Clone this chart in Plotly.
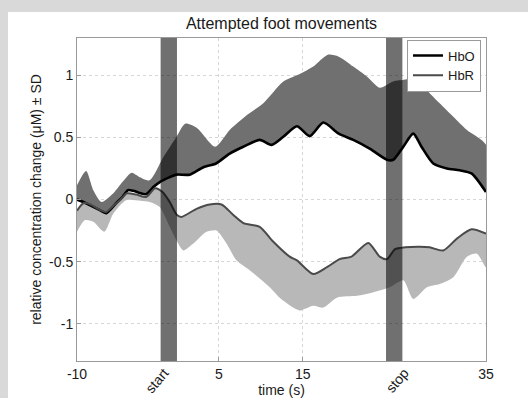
import plotly.graph_objects as go

# ---------------- data ----------------
hbo_t = [-10, -9.3, -8.6, -7.5, -6.8, -5.7, -5.0, -4.4, -3.8, -3.2, -2.4, -1.6, -0.9, 0.2, 0.95,
         2.4, 3.9, 5.3, 6.8, 8.3, 10.1, 11.4, 12.7, 14.2, 15.6, 17.1, 18.8, 20.4, 22.2, 24.1,
         24.8, 25.9, 27.0, 27.9, 29.2, 30.7, 32.1, 33.4, 35.0]
hbo_mean = [0.0, -0.02, -0.046, -0.086, -0.11, -0.03, 0.02, 0.075, 0.07, 0.055, 0.043, 0.10, 0.14,
            0.18, 0.20, 0.20, 0.26, 0.29, 0.37, 0.425, 0.48, 0.44, 0.505, 0.59, 0.51, 0.62, 0.53,
            0.48, 0.41, 0.32, 0.32, 0.425, 0.53, 0.425, 0.29, 0.25, 0.235, 0.21, 0.06]

hbo_up_t = [-10, -9.0, -8.2, -7.3, -6.0, -5.0, -4.0, -3.1, -2.0, -0.5, 0.95, 1.9, 3.2, 5.2, 6.8,
            8.7, 10.5, 12.7, 14.5, 16.0, 17.6, 18.8, 20.4, 21.9, 23.3, 24.8, 26.1, 27.2, 28.5,
            29.9, 31.4, 32.9, 35.0]
hbo_upper = [0.115, 0.23, 0.075, -0.02, 0.05, 0.14, 0.215, 0.18, 0.155, 0.34, 0.505, 0.61, 0.575,
             0.425, 0.56, 0.68, 0.775, 0.95, 1.01, 1.07, 1.165, 1.15, 1.07, 0.99, 0.9, 0.95, 0.965,
             0.99, 0.88, 0.775, 0.667, 0.56, 0.44]

hbr_t = [-10, -9.3, -8.5, -7.6, -6.8, -6.0, -5.2, -4.5, -3.5, -2.4, -1.4, -0.6, 0.2, 1.0, 1.5,
         3.15, 4.6, 5.9, 7.2, 8.3, 10.1, 11.6, 13.4, 14.2, 16.0, 17.5, 18.9, 20.2, 22.05, 23.3,
         24.1, 25.0, 26.1, 27.7, 28.8, 30.3, 31.8, 33.4, 35.0]
hbr_mean = [-0.09, -0.03, -0.04, -0.08, -0.10, -0.05, 0.0, 0.05, 0.04, 0.02, 0.09, 0.06, -0.02,
            -0.125, -0.14, -0.075, -0.04, -0.04, -0.125, -0.19, -0.22, -0.34, -0.46, -0.49, -0.60,
            -0.545, -0.48, -0.46, -0.35, -0.46, -0.48, -0.40, -0.385, -0.38, -0.385, -0.41, -0.315,
            -0.24, -0.275]

hbr_lo_t = [-10, -9.15, -8.2, -7.0, -6.0, -4.6, -3.0, -2.0, -0.9, 0.2, 0.95, 1.7, 2.8, 4.25, 5.35,
            6.45, 7.55, 9.0, 11.2, 12.3, 13.8, 14.5, 16.0, 17.1, 18.6, 20.8, 22.6, 24.4, 25.9, 27.0,
            28.5, 29.9, 31.4, 32.9, 34.0, 35.0]
hbr_lower = [-0.26, -0.167, -0.18, -0.26, -0.113, -0.006, -0.01, -0.02, -0.06, -0.22, -0.33, -0.41,
             -0.355, -0.26, -0.25, -0.355, -0.49, -0.57, -0.706, -0.79, -0.87, -0.894, -0.855, -0.87,
             -0.79, -0.775, -0.746, -0.706, -0.65, -0.80, -0.706, -0.68, -0.625, -0.46, -0.436, -0.545]

stim_bars = [(-0.8, 1.0), (24.0, 25.8)]

x_tickvals = [-10, 5.6, 14.85, 35]
x_ticktext = ["-10", "5", "15", "35"]
event_tickvals = [-0.4, 26.0]
event_ticktext = ["start", "stop"]
y_tickvals = [-1, -0.5, 0, 0.5, 1]
y_ticktext = ["-1", "-0.5", "0", "0.5", "1"]

# ---------------- figure ----------------
FONT = "Liberation Sans, Arial, sans-serif"
fig = go.Figure()

SM = 0.7
# HbR band (mean - SD .. mean)
fig.add_trace(go.Scatter(
    x=hbr_t + hbr_lo_t[::-1], y=hbr_mean + hbr_lower[::-1],
    fill="toself", fillcolor="#b8b8b8", line=dict(width=0, shape="spline", smoothing=SM),
    mode="lines", showlegend=False, hoverinfo="skip"))
# HbO band (mean .. mean + SD)
fig.add_trace(go.Scatter(
    x=hbo_up_t + hbo_t[::-1], y=hbo_upper + hbo_mean[::-1],
    fill="toself", fillcolor="#707070", line=dict(width=0, shape="spline", smoothing=SM),
    mode="lines", showlegend=False, hoverinfo="skip"))
# mean lines
fig.add_trace(go.Scatter(x=hbo_t, y=hbo_mean, mode="lines", name="HbO",
                         line=dict(color="#000000", width=2.6, shape="spline", smoothing=SM)))
fig.add_trace(go.Scatter(x=hbr_t, y=hbr_mean, mode="lines", name="HbR",
                         line=dict(color="#4a4a4a", width=2, shape="spline", smoothing=SM)))
# dummy trace for the event tick axis
fig.add_trace(go.Scatter(x=[None], y=[None], xaxis="x2", showlegend=False, hoverinfo="skip"))

for (a, b) in stim_bars:
    fig.add_shape(type="rect", xref="x", yref="paper", x0=a, x1=b, y0=0, y1=1,
                  fillcolor="rgba(0,0,0,0.56)", line=dict(width=0), layer="above")

# grey page frame (left and top strips)
W, H = 528, 398
L, R, T, B = 77, 42, 38, 37
pw, ph = W - L - R, H - T - B
def px2x(p): return (p - L) / pw
def py2y(p): return (H - B - p) / ph
fig.add_shape(type="rect", xref="paper", yref="paper", x0=px2x(0), x1=px2x(8),
              y0=py2y(H), y1=py2y(0), fillcolor="#d9d9d9", line=dict(width=0), layer="below")
fig.add_shape(type="rect", xref="paper", yref="paper", x0=px2x(0), x1=px2x(W),
              y0=py2y(12), y1=py2y(0), fillcolor="#d9d9d9", line=dict(width=0), layer="below")

axis_common = dict(showline=True, linecolor="#9a9a9a", linewidth=1, mirror=True,
                   ticks="inside", ticklen=4, tickcolor="#9a9a9a", zeroline=False,
                   showgrid=True, gridcolor="#d6d6d6", griddash="dot", gridwidth=1,
                   automargin=False,
                   tickfont=dict(family=FONT, size=14, color="#1a1a1a"))

fig.update_layout(
    width=W, height=H,
    margin=dict(l=L, r=R, t=T, b=B, autoexpand=False),
    paper_bgcolor="white", plot_bgcolor="white",
    font=dict(family=FONT, size=14, color="#1a1a1a"),
    title=dict(text="Attempted foot movements", x=0.5,
               xref="paper", xanchor="center", yref="container", y=1 - 23 / H,
               yanchor="middle", font=dict(family=FONT, size=16, color="#1a1a1a")),
    xaxis=dict(range=[-10, 35], tickmode="array", tickvals=x_tickvals, ticktext=x_ticktext,
               ticklabelstandoff=0,
               title=dict(text="time (s)", standoff=4, font=dict(family=FONT, size=14)),
               **axis_common),
    xaxis2=dict(range=[-10, 35], overlaying="x", anchor="y", side="bottom", matches="x",
                tickmode="array", tickvals=event_tickvals, ticktext=event_ticktext,
                tickangle=-50, showgrid=False, showline=False, zeroline=False, ticks="",
                automargin=False,
                tickfont=dict(family=FONT, size=14, color="#1a1a1a")),
    yaxis=dict(range=[-1.3, 1.3], tickmode="array", tickvals=y_tickvals, ticktext=y_ticktext,
               title=dict(text="relative concentration change (μM) ± SD", standoff=4,
                          font=dict(family=FONT, size=14)),
               **axis_common),
    legend=dict(x=px2x(481), y=py2y(39.5), xanchor="right", yanchor="top",
                bgcolor="white", bordercolor="#9a9a9a", borderwidth=1,
                font=dict(family=FONT, size=13, color="#1a1a1a"),
                itemwidth=30, tracegroupgap=0),
    showlegend=True,
)

fig.write_html("out.html", config={"displayModeBar": False})
